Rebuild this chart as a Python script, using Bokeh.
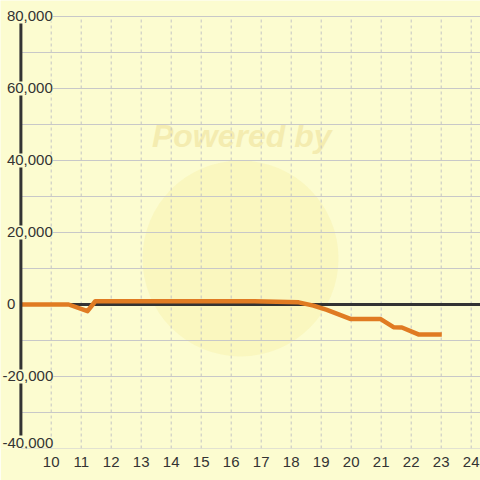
from bokeh.plotting import figure
from bokeh.models import Range1d, FixedTicker, Label
from bokeh.embed import file_html
from bokeh.resources import INLINE

# data (hour of day, balance)
hours = [9.0, 10.58, 11.21, 11.47, 16.77, 18.25, 18.74, 19.19, 19.97, 20.97, 21.41, 21.69, 22.24, 23.02]
values = [0, 0, -1850, 900, 900, 600, -300, -1500, -4000, -4000, -6300, -6400, -8300, -8300]
x_ticks = list(range(10, 25))
y_label_ticks = [-40000, -20000, 0, 20000, 40000, 60000, 80000]
y_grid_ticks = list(range(-40000, 80001, 10000))
Y_MIN, Y_MAX = -40000, 80000

BG = "#fcfcd0"
TXT = "#333333"
GRID = "#c8c8c8"
AX = 8.99              # position of the value axis on the hour scale
X0, X1 = 8.31, 24.31   # visible hour range
Y_TOP = 84444          # visible value range above the top tick (room for its label)
PX = (Y_TOP - Y_MIN) / 448.0   # value units per pixel
HALF = 7 * PX                  # half height of a value label

p = figure(width=480, height=480, output_backend="svg", toolbar_location=None,
           x_range=Range1d(X0, X1), y_range=Range1d(Y_MIN, Y_TOP),
           y_axis_location=None,
           min_border_left=0, min_border_right=0, min_border_top=0, min_border_bottom=32)
p.background_fill_color = BG
p.border_fill_color = BG
p.outline_line_color = None
p.grid.visible = False

# watermark
p.circle(x=[16.31], y=[12780], radius=98, radius_units="screen",
         fill_color="#f9f3b4", fill_alpha=0.6, line_color=None, level="image")
p.add_layout(Label(x=16.35, y=46900, text="Powered by", text_align="center",
                   text_baseline="middle", text_font="Liberation Sans",
                   text_font_style="bold italic", text_font_size="32px",
                   text_color="#f4ecb0", level="image"))

# grid lines
p.segment(x0=x_ticks, y0=[Y_MIN] * len(x_ticks), x1=x_ticks, y1=[Y_MAX] * len(x_ticks),
          line_color="#c4c4c4", line_width=1, line_dash="3 3", level="underlay")
p.segment(x0=[AX] * len(y_grid_ticks), y0=y_grid_ticks, x1=[X1] * len(y_grid_ticks), y1=y_grid_ticks,
          line_color=GRID, line_width=1.2, level="underlay")

# zero line
p.segment(x0=[AX], y0=[0], x1=[X1], y1=[0], line_color=TXT, line_width=3, level="underlay")

# series
p.line(hours, values, line_color="#e07b22", line_width=4.5, line_join="round", line_cap="butt")

# value axis line, broken where the labels sit on it
gaps = []
for v in y_label_ticks:
    if v == 0:
        continue
    c = v + (6 * PX if v == Y_MIN else 0)
    gaps.append((c - HALF, c + HALF))
gaps.sort()
seg_y0, seg_y1 = [], []
for (a0, a1), (b0, b1) in zip(gaps[:-1], gaps[1:]):
    seg_y0.append(a1)
    seg_y1.append(b0)
p.segment(x0=[AX] * len(seg_y0), y0=seg_y0, x1=[AX] * len(seg_y0), y1=seg_y1,
          line_color=TXT, line_width=3, line_cap="butt", level="guide")

# x axis
xa = p.xaxis[0]
xa.ticker = FixedTicker(ticks=x_ticks)
xa.axis_line_color = None
xa.major_tick_line_color = None
xa.minor_tick_line_color = None
xa.major_tick_out = 0
xa.major_tick_in = 0
xa.major_label_standoff = 8
xa.major_label_text_font = "Liberation Sans"
xa.major_label_text_font_size = "15px"
xa.major_label_text_color = TXT

# value axis labels (left aligned, minus sign hanging)
for v in y_label_ticks:
    p.add_layout(Label(x=AX, y=v, text=f"{v:,}",
                       x_offset=-18.5 if v < 0 else -14,
                       y_offset=6 if v == Y_MIN else 0,
                       text_align="left", text_baseline="middle",
                       text_font="Liberation Sans", text_font_size="15px", text_color=TXT,
                       background_fill_color=BG, level="overlay"))

open("out.html", "w").write(file_html(p, INLINE))
